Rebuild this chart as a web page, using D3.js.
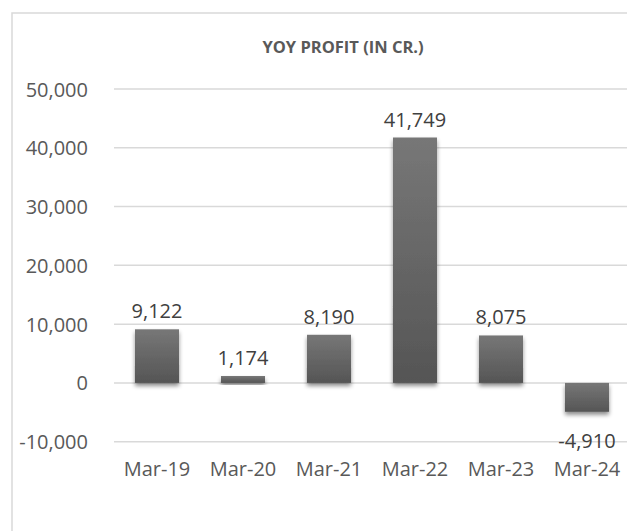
<!DOCTYPE html>
<html><head><meta charset="utf-8">
<script src="https://cdn.jsdelivr.net/npm/d3@7"></script>
<style>html,body{margin:0;padding:0;background:#fff;}svg{display:block;}</style>
</head><body>
<script>
const categories = ["Mar-19","Mar-20","Mar-21","Mar-22","Mar-23","Mar-24"];
const profits = [9122, 1174, 8190, 41749, 8075, -4910];
const yTicks = [-10000, 0, 10000, 20000, 30000, 40000, 50000];
const title = "YOY PROFIT (IN CR.)";

const W = 627, H = 531;
const fmt = d => d3.format(",")(d).replace("\u2212", "-");
const svg = d3.select("body").append("svg").attr("width", W).attr("height", H);
const defs = svg.append("defs");
const grad = defs.append("linearGradient").attr("id","barGrad").attr("x1",0).attr("y1",0).attr("x2",0).attr("y2",1);
grad.append("stop").attr("offset","0%").attr("stop-color","#777777");
grad.append("stop").attr("offset","100%").attr("stop-color","#555555");
const f = defs.append("filter").attr("id","shadow").attr("x","-20%").attr("y","-20%").attr("width","140%").attr("height","150%");
f.append("feDropShadow").attr("dx",0).attr("dy",3).attr("stdDeviation",2).attr("flood-color","#000").attr("flood-opacity",0.45);

// chart border
svg.append("rect").attr("x",12).attr("y",13).attr("width",700).attr("height",600)
  .attr("fill","none").attr("stroke","#d9d9d9").attr("stroke-width",1.5);

const font = "'Open Sans', 'Noto Sans', sans-serif";
const txt = "#595959";

svg.append("text").attr("x",343).attr("y",53).attr("text-anchor","middle")
  .attr("font-family",font).attr("font-weight","bold").attr("font-size",16.5).attr("fill",txt).text(title);

const y = d3.scaleLinear().domain([-10000, 50000]).range([441.7, 89]);
const x = d3.scaleBand().domain(categories).range([114, 630]).paddingInner(0.488).paddingOuter(0.244);

// gridlines
svg.append("g").selectAll("line").data(yTicks).join("line")
  .attr("x1",114).attr("x2",W).attr("y1",d=>y(d)).attr("y2",d=>y(d))
  .attr("stroke","#d9d9d9").attr("stroke-width",1.5);

// y axis labels
const yAxis = d3.axisLeft(y).tickValues(yTicks).tickSize(0).tickPadding(0).tickFormat(fmt);
const ga = svg.append("g").attr("transform","translate(88,0)").call(yAxis);
ga.select(".domain").remove();
ga.selectAll("text").attr("font-family",font).attr("font-size",20).attr("fill",txt).attr("dy","0.35em");

// bars
svg.append("g").selectAll("rect").data(profits).join("rect")
  .attr("x",(d,i)=>x(categories[i]))
  .attr("width",x.bandwidth())
  .attr("y",d=>y(Math.max(0,d)))
  .attr("height",d=>Math.abs(y(d)-y(0)))
  .attr("fill","url(#barGrad)")
  .attr("filter","url(#shadow)");

// data labels
svg.append("g").selectAll("text").data(profits).join("text")
  .attr("x",(d,i)=>x(categories[i])+x.bandwidth()/2)
  .attr("y",d=> d>=0 ? y(d)-11 : y(d)+36)
  .attr("text-anchor","middle")
  .attr("font-family",font).attr("font-size",20).attr("fill","#404040")
  .text(fmt);

// x axis labels
const xAxis = d3.axisBottom(x).tickSize(0).tickPadding(0);
const gx = svg.append("g").attr("transform","translate(0,462)").call(xAxis);
gx.select(".domain").remove();
gx.selectAll("text").attr("font-family",font).attr("font-size",20).attr("fill",txt).attr("dy","0.71em");
</script>
</body></html>
